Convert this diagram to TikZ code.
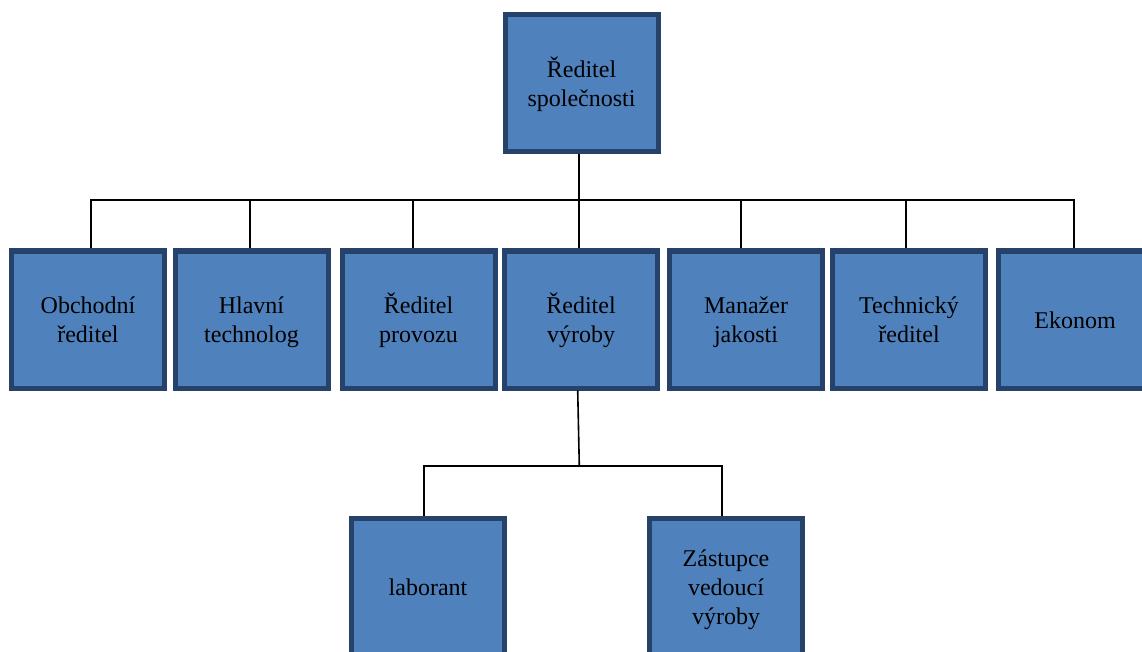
\documentclass[tikz,border=0pt]{standalone}
\usepackage{fontspec}
\setmainfont{Liberation Serif}
\definecolor{boxfill}{HTML}{4F81BD}
\definecolor{boxline}{HTML}{26416A}
\newcommand\lnstr{\rule[-5.7pt]{0pt}{29pt}}
\begin{document}
\begin{tikzpicture}[x=1pt,y=-1pt,
  orgbox/.style={draw=boxline, fill=boxfill, line width=5pt, minimum width=153pt, minimum height=137pt,
    inner sep=0pt, align=center, font=\fontsize{24}{29}\selectfont, text=black},
  conn/.style={draw=black, line width=1.6pt}]
\useasboundingbox (0,0) rectangle (1142,652);
\begin{scope}
\clip (0,0) rectangle (1142,652);
\node[orgbox] (top) at (581.5,83) {\lnstr Ředitel\\\lnstr společnosti};
\node[orgbox] (obch) at (88,319.5) {\lnstr Obchodní\\\lnstr ředitel};
\node[orgbox] (hlav) at (251.5,319.5) {\lnstr Hlavní\\\lnstr technolog};
\node[orgbox] (prov) at (418.5,319.5) {\lnstr Ředitel\\\lnstr provozu};
\node[orgbox] (vyr) at (581,319.5) {\lnstr Ředitel\\\lnstr výroby};
\node[orgbox] (man) at (746,319.5) {\lnstr Manažer\\\lnstr jakosti};
\node[orgbox] (tech) at (909,319.5) {\lnstr Technický\\\lnstr ředitel};
\node[orgbox] (eko) at (1075,319.5) {\lnstr Ekonom};
\node[orgbox] (lab) at (428,587) {\lnstr laborant};
\node[orgbox] (zas) at (726,587) {\lnstr Zástupce\\\lnstr vedoucí\\\lnstr výroby};

\coordinate (bus) at (579,200);
\coordinate (bus2) at (579.3,466);
\draw[conn] ([xshift=-2.5pt]top.south) -- (bus);
\draw[conn] ([xshift=3pt]obch.north) |- ([xshift=-1pt]eko.north |- bus) -- ([xshift=-1pt]eko.north);
\draw[conn] ([xshift=-1.8pt]hlav.north) -- ([xshift=-1.8pt]hlav.north |- bus);
\draw[conn] ([xshift=-5.5pt]prov.north) -- ([xshift=-5.5pt]prov.north |- bus);
\draw[conn] ([xshift=-2pt]vyr.north) -- ([xshift=-2pt]vyr.north |- bus);
\draw[conn] ([xshift=-5pt]man.north) -- ([xshift=-5pt]man.north |- bus);
\draw[conn] ([xshift=-3pt]tech.north) -- ([xshift=-3pt]tech.north |- bus);
\draw[conn] ([xshift=-3.3pt]vyr.south) -- (bus2);
\draw[conn] ([xshift=-4pt]lab.north) |- ([xshift=-4pt]zas.north |- bus2) -- ([xshift=-4pt]zas.north);
\end{scope}
\end{tikzpicture}
\end{document}
